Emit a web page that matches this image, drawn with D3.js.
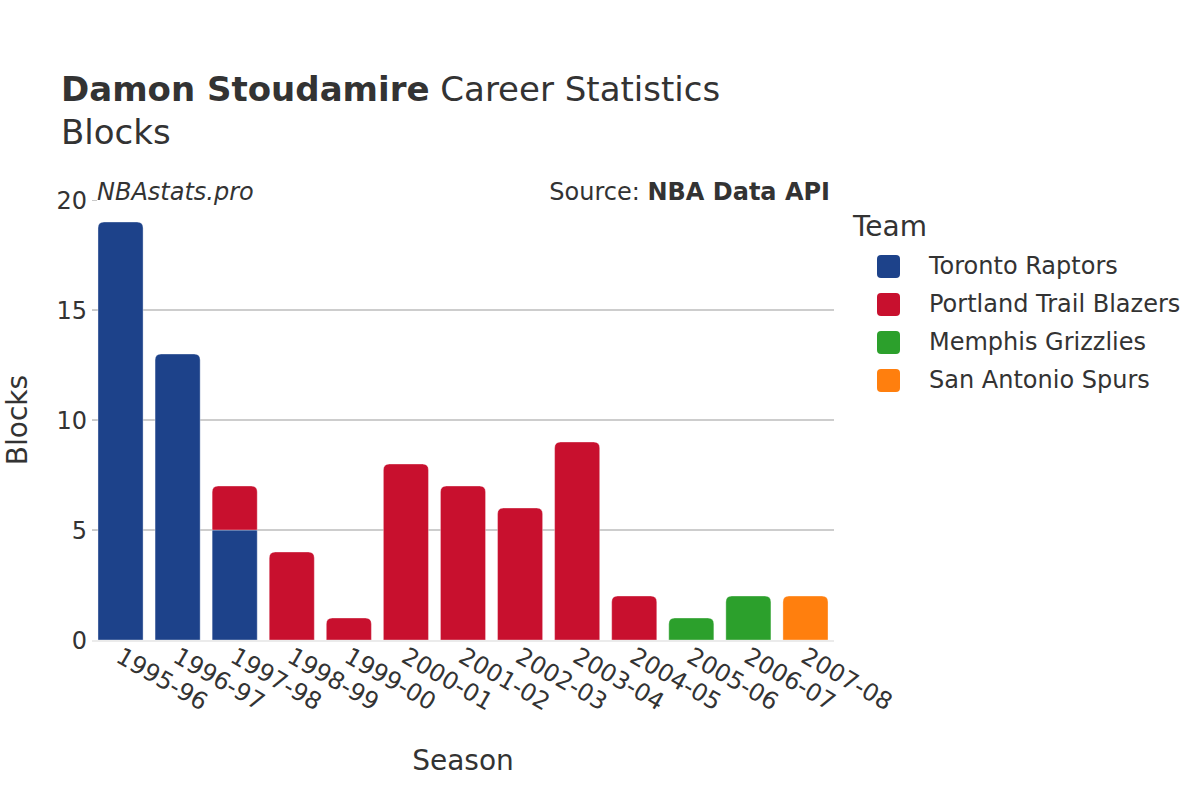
<!DOCTYPE html>
<html><head><meta charset="utf-8">
<script src="https://cdn.jsdelivr.net/npm/d3@7"></script>
<style>body{margin:0;background:#fff;} text{font-family:"DejaVu Sans",sans-serif;fill:#333;}</style>
</head><body><svg id="c" width="1200" height="800"></svg>
<script>
const seasons = ["1995-96","1996-97","1997-98","1998-99","1999-00","2000-01","2001-02","2002-03","2003-04","2004-05","2005-06","2006-07","2007-08"];
const teams = ["Toronto Raptors","Portland Trail Blazers","Memphis Grizzlies","San Antonio Spurs"];
const teamColors = ["#1d428a","#c8102e","#2ca02c","#ff7f0e"];
const toronto  = [19,13,5,0,0,0,0,0,0,0,0,0,0];
const portland = [0,0,2,4,1,8,7,6,9,2,0,0,0];
const memphis  = [0,0,0,0,0,0,0,0,0,0,1,2,0];
const spurs    = [0,0,0,0,0,0,0,0,0,0,0,0,2];
const yTicks = [0,5,10,15,20];

const series = [toronto, portland, memphis, spurs];
const svg = d3.select("#c");
const L = 92, R = 834, T = 200, B = 640;
const x = d3.scaleBand().domain(seasons).range([L, R]).paddingInner(0.21).paddingOuter(0.105);
const y = d3.scaleLinear().domain([0, 20]).range([B, T]);

// grid
svg.append("g").selectAll("line").data(yTicks.filter(d => d > 0 && d < 20)).join("line")
  .attr("x1", L).attr("x2", R).attr("y1", d => y(d)).attr("y2", d => y(d))
  .attr("stroke", "#bdbdbd").attr("stroke-width", 1.3);
// y axis
const yAxis = svg.append("g").attr("transform", `translate(${L + 5},0)`)
  .call(d3.axisLeft(y).tickValues(yTicks).tickSize(5).tickPadding(5));
yAxis.select(".domain").remove();
yAxis.selectAll("line").attr("stroke", "#c8c8c8");
yAxis.selectAll("text").style("font-size", "24px").style("fill", "#333").attr("dy", "0.35em");

// stacks
const rows = seasons.map((s, i) => {
  const r = {season: s}; teams.forEach((t, k) => r[t] = series[k][i]); return r;
});
const stack = d3.stack().keys(teams)(rows);
function barPath(x0, w, y0, y1, rounded) {
  const r = rounded ? Math.min(6, (y0 - y1) / 2) : 0;
  return `M${x0},${y0}V${y1 + r}Q${x0},${y1} ${x0 + r},${y1}H${x0 + w - r}Q${x0 + w},${y1} ${x0 + w},${y1 + r}V${y0}Z`;
}
const topIdx = seasons.map((s, i) => { let t = -1; series.forEach((a, k) => { if (a[i] > 0) t = k; }); return t; });
stack.forEach((layer, k) => {
  svg.append("g").selectAll("path").data(layer.map((d, i) => ({d, i})).filter(o => o.d[1] > o.d[0])).join("path")
    .attr("d", o => barPath(x(seasons[o.i]), x.bandwidth(), y(o.d[0]), y(o.d[1]), topIdx[o.i] === k))
    .attr("fill", teamColors[k])
    .attr("stroke", "#fff").attr("stroke-width", 0.6).attr("stroke-opacity", 0.6);
});
// zero line
svg.append("line").attr("x1", L).attr("x2", R).attr("y1", B + 1).attr("y2", B + 1)
  .attr("stroke", "#ebebeb").attr("stroke-width", 2);

// x axis labels
const xAxis = svg.append("g").attr("transform", `translate(0,${B})`)
  .call(d3.axisBottom(x).tickSize(0).tickPadding(0));
xAxis.select(".domain").remove();
xAxis.selectAll("text").style("font-size", "24px").style("fill", "#333")
  .attr("text-anchor", "start").attr("dy", 0).attr("y", 0)
  .attr("transform", "translate(-6,21) rotate(30)");

// titles
const title = svg.append("text").attr("x", 61).attr("y", 101).style("font-size", "34px");
title.append("tspan").text("Damon Stoudamire").style("font-weight", "bold");
title.append("tspan").text(" Career Statistics");
svg.append("text").attr("x", 61).attr("y", 144).style("font-size", "34px").text("Blocks");
svg.append("text").attr("x", 97).attr("y", 200).style("font-size", "24px").style("font-style", "italic").text("NBAstats.pro");
const src = svg.append("text").attr("x", 830).attr("y", 200).attr("text-anchor", "end").style("font-size", "24px");
src.append("tspan").text("Source: ");
src.append("tspan").text("NBA Data API").style("font-weight", "bold");
svg.append("text").attr("x", 463).attr("y", 770).attr("text-anchor", "middle").style("font-size", "28px").text("Season");
svg.append("text").attr("transform", "translate(27,420) rotate(-90)").attr("text-anchor", "middle").style("font-size", "28px").text("Blocks");

// legend
svg.append("text").attr("x", 853).attr("y", 236).style("font-size", "28px").text("Team");
const lg = svg.append("g").selectAll("g").data(teams).join("g")
  .attr("transform", (d, i) => `translate(0,${266 + i * 38})`);
lg.append("rect").attr("x", 877).attr("y", -11).attr("width", 23).attr("height", 23).attr("rx", 4)
  .attr("fill", (d, i) => teamColors[i]);
lg.append("text").attr("x", 929).attr("y", 0).attr("dy", "0.35em").style("font-size", "24px").text(d => d);
</script></body></html>
